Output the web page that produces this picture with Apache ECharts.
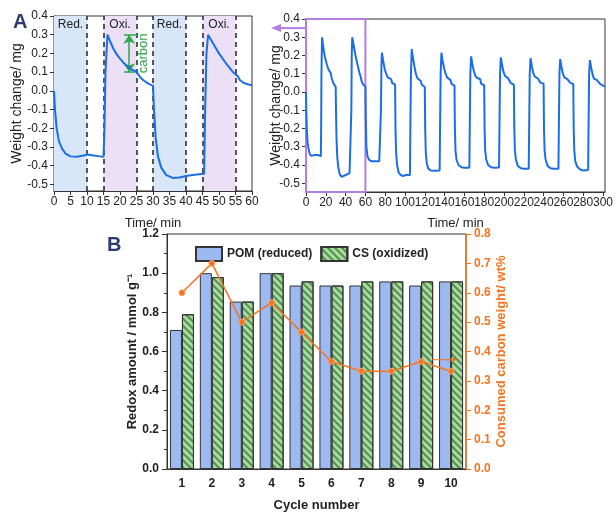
<!DOCTYPE html>
<html>
<head>
<meta charset="utf-8">
<script src="https://cdn.jsdelivr.net/npm/echarts@6/dist/echarts.min.js"></script>
<style>
  html, body { margin: 0; padding: 0; background: #fff; }
  #chart { width: 616px; height: 513px; }
</style>
</head>
<body>
<div id="chart"></div>
<script>
// A: weight change (mg) vs time (min), first two redox cycles
const cyclesFirst = [
  [0, 0.0], [0.3, -0.1], [0.8, -0.2], [1.5, -0.27], [2.5, -0.31], [3.5, -0.335], [5, -0.35], [7, -0.352],
  [9, -0.345], [10, -0.34], [12, -0.345], [14, -0.35], [15, -0.352], [15.3, -0.2], [15.6, 0.1], [16.2, 0.3],
  [17, 0.265], [18, 0.225], [19, 0.195], [20, 0.172], [21, 0.152], [22, 0.135], [23, 0.12], [24, 0.11],
  [25, 0.105], [25.6, 0.085], [26.3, 0.07], [27, 0.058], [28, 0.045], [29, 0.035], [30, 0.028],
  [30.3, -0.1], [30.8, -0.25], [31.5, -0.35], [32.5, -0.41], [34, -0.45], [36, -0.465], [38, -0.463],
  [40, -0.455], [42, -0.45], [44, -0.445], [45.5, -0.443], [45.8, -0.1], [46.2, 0.2], [46.7, 0.3],
  [48, 0.26], [50, 0.2], [52, 0.15], [54, 0.105], [55, 0.088], [55.7, 0.078], [56.3, 0.058], [57.5, 0.042],
  [59, 0.034], [60, 0.03]
]
// A (right): cycles 3 to 10
const cyclesLater = [
  [60.4, -0.15], [61, -0.3], [62, -0.35], [63.5, -0.37], [66, -0.38], [70, -0.38], [74, -0.38], [75.3, -0.376],
  [75.7, -0.1], [76.2, 0.15], [76.7, 0.215], [78, 0.17], [79.5, 0.125], [81, 0.1], [82.5, 0.08], [84, 0.075],
  [86, 0.07], [87, 0.05], [88.5, 0.043], [90, 0.04],
  [90.4, -0.2], [91, -0.33], [92, -0.4], [93.5, -0.44], [95.5, -0.455], [98, -0.46], [101, -0.455], [105, -0.455],
  [105.4, -0.2], [106, 0.1], [106.8, 0.235], [108, 0.19], [109.5, 0.14], [111, 0.1], [112.5, 0.075], [114, 0.065],
  [116, 0.06], [117, 0.04], [118.5, 0.03], [120, 0.027],
  [120.4, -0.2], [121, -0.33], [122, -0.39], [123.5, -0.42], [126, -0.43], [130, -0.432], [135, -0.43],
  [135.4, -0.2], [136, 0.1], [136.8, 0.215], [138, 0.17], [139.5, 0.13], [141, 0.1], [142.5, 0.08], [144, 0.07],
  [146, 0.065], [147, 0.045], [148.5, 0.037], [150, 0.035],
  [150.4, -0.2], [151, -0.32], [152, -0.37], [154, -0.4], [157, -0.412], [160, -0.415], [165, -0.415],
  [165.4, -0.2], [166, 0.1], [166.8, 0.195], [168, 0.155], [169.5, 0.115], [171, 0.09], [172.5, 0.078], [174, 0.075],
  [176, 0.07], [177, 0.045], [178.5, 0.038], [180, 0.037],
  [180.4, -0.2], [181, -0.32], [182, -0.37], [184, -0.4], [187, -0.412], [190, -0.415], [195, -0.414],
  [195.4, -0.2], [196, 0.1], [196.8, 0.19], [198, 0.15], [199.5, 0.11], [201, 0.088], [202.5, 0.078], [204, 0.076],
  [206, 0.072], [207, 0.048], [208.5, 0.042], [210, 0.04],
  [210.4, -0.2], [211, -0.32], [212, -0.37], [214, -0.405], [217, -0.418], [220, -0.42], [225, -0.42],
  [225.4, -0.2], [226, 0.1], [226.8, 0.185], [228, 0.145], [229.5, 0.105], [231, 0.085], [232.5, 0.077], [234, 0.075],
  [236, 0.07], [237, 0.05], [238.5, 0.046], [240, 0.045],
  [240.4, -0.2], [241, -0.32], [242, -0.37], [244, -0.405], [247, -0.418], [250, -0.42], [255, -0.42],
  [255.4, -0.2], [256, 0.1], [256.8, 0.18], [258, 0.14], [259.5, 0.1], [261, 0.08], [262.5, 0.072], [264, 0.07],
  [266, 0.066], [267, 0.05], [268.5, 0.046], [270, 0.044],
  [270.4, -0.2], [271, -0.32], [272, -0.38], [274, -0.41], [277, -0.425], [280, -0.43], [285, -0.428],
  [285.4, -0.2], [286, 0.1], [286.8, 0.175], [288, 0.135], [289.5, 0.095], [291, 0.072], [292.5, 0.066], [294, 0.065],
  [296, 0.06], [297, 0.045], [299, 0.035], [302, 0.03]
]
const redWindows = [[0, 10], [30, 40]]
const oxiWindows = [[15, 25], [45, 55]]
const stepLines = [10, 15, 25, 30, 40, 45, 55]
const weightTicks = [-0.5, -0.4, -0.3, -0.2, -0.1, 0, 0.1, 0.2, 0.3, 0.4]

// B: redox amount per cycle and consumed carbon
const cycles = ['1', '2', '3', '4', '5', '6', '7', '8', '9', '10']
const pomReduced = [0.71, 1.0, 0.855, 1.0, 0.937, 0.937, 0.937, 0.958, 0.937, 0.958]
const csOxidized = [0.79, 0.98, 0.855, 1.0, 0.958, 0.937, 0.958, 0.958, 0.958, 0.958]
const carbonUsed = [0.6, 0.7, 0.5, 0.566, 0.466, 0.366, 0.333, 0.333, 0.366, 0.333]

const FONT = 'Liberation Sans, Arial, sans-serif'
const AXIS = '#333'
const ORANGE = '#f47421'
const BLUE = '#1a6fe6'

const chart = echarts.init(document.getElementById('chart'))

const weightAxis = (idx, gap) => ({
  type: 'value',
  gridIndex: idx,
  min: idx === 0 ? -0.535 : -0.548,
  max: 0.4,
  name: 'Weight change/ mg',
  nameLocation: 'middle',
  nameGap: gap,
  nameMoveOverlap: false,
  nameTextStyle: { fontFamily: FONT, fontSize: 14, color: '#222' },
  axisLine: { show: true, onZero: false, lineStyle: { color: AXIS } },
  axisTick: { show: true, length: 4, customValues: weightTicks, lineStyle: { color: AXIS } },
  axisLabel: { customValues: weightTicks, fontFamily: FONT, fontSize: 12, color: '#222', margin: 6,
    formatter: v => v.toFixed(1) },
  splitLine: { show: false }
})

const timeAxis = (idx, max, interval, gap) => ({
  type: 'value', gridIndex: idx, min: 0, max: max, interval: interval,
  name: 'Time/ min', nameLocation: 'middle', nameGap: gap, nameMoveOverlap: false,
  nameTextStyle: { fontFamily: FONT, fontSize: 13, color: '#222' },
  axisLine: { onZero: false, lineStyle: { color: AXIS } },
  axisTick: { length: 4, lineStyle: { color: AXIS } },
  axisLabel: { fontFamily: FONT, fontSize: 12, color: '#222', margin: 5 },
  splitLine: { show: false }
})

const option = {
  animation: false,
  grid: [
    { left: 54, top: 16, width: 198, height: 175, show: true, borderColor: AXIS, borderWidth: 1 },
    { left: 306, top: 19, width: 307, height: 173, show: true, borderColor: AXIS, borderWidth: 1 },
    { left: 167, top: 234, width: 299, height: 236, show: true, borderColor: AXIS, borderWidth: 1 }
  ],
  legend: {
    left: 190, top: 241, itemWidth: 26, itemHeight: 14, itemGap: 8, icon: 'rect',
    data: ['POM (reduced)', 'CS (oxidized)'],
    textStyle: { fontFamily: FONT, fontSize: 12, fontWeight: 'bold', color: '#222' }
  },
  xAxis: [
    timeAxis(0, 60, 5, 26),
    timeAxis(1, 302, 20, 25),
    {
      type: 'category', gridIndex: 2, data: cycles,
      name: 'Cycle number', nameLocation: 'middle', nameGap: 30, nameMoveOverlap: false,
      nameTextStyle: { fontFamily: FONT, fontSize: 13, fontWeight: 'bold', color: '#222' },
      axisLine: { lineStyle: { color: AXIS } },
      axisTick: { length: 5, lineStyle: { color: AXIS } },
      axisLabel: { fontFamily: FONT, fontSize: 12, fontWeight: 'bold', color: '#222', margin: 9 }
    }
  ],
  yAxis: [
    weightAxis(0, 30),
    weightAxis(1, 23),
    {
      type: 'value', gridIndex: 2, min: 0, max: 1.2, interval: 0.2,
      name: 'Redox amount / mmol g⁻¹', nameLocation: 'middle', nameGap: 28, nameMoveOverlap: false,
      nameTextStyle: { fontFamily: FONT, fontSize: 13, fontWeight: 'bold', color: '#222' },
      axisLine: { show: true, lineStyle: { color: AXIS } },
      axisTick: { show: true, length: 5, lineStyle: { color: AXIS } },
      minorTick: { show: true, splitNumber: 2, length: 3, lineStyle: { color: AXIS } },
      axisLabel: { fontFamily: FONT, fontSize: 12, fontWeight: 'bold', color: '#222', formatter: v => v.toFixed(1) },
      splitLine: { show: false }
    },
    {
      type: 'value', gridIndex: 2, position: 'right', min: 0, max: 0.8, interval: 0.1,
      name: 'Consumed carbon weight/ wt%', nameLocation: 'middle', nameGap: 29, nameRotate: 90,
      nameMoveOverlap: false,
      nameTextStyle: { fontFamily: FONT, fontSize: 13, fontWeight: 'bold', color: ORANGE },
      axisLine: { show: true, lineStyle: { color: ORANGE, width: 1.5 } },
      axisTick: { show: true, length: 5, lineStyle: { color: ORANGE } },
      axisLabel: { fontFamily: FONT, fontSize: 12, fontWeight: 'bold', color: ORANGE, formatter: v => v.toFixed(1) },
      splitLine: { show: false }
    }
  ],
  series: [
    {
      type: 'line', xAxisIndex: 0, yAxisIndex: 0, data: cyclesFirst,
      showSymbol: false, lineStyle: { color: BLUE, width: 2 }, z: 5,
      markArea: {
        silent: true,
        label: { position: 'insideTop', distance: 3, fontFamily: FONT, fontSize: 12, color: '#222' },
        data: redWindows.map(w => [{ xAxis: w[0], name: 'Red.', itemStyle: { color: '#d7e6f9' } }, { xAxis: w[1] }])
          .concat(oxiWindows.map(w => [{ xAxis: w[0], name: 'Oxi.', itemStyle: { color: '#ebe0f5' } }, { xAxis: w[1] }]))
      },
      markLine: {
        silent: true, symbol: 'none', label: { show: false },
        lineStyle: { color: '#222', type: [5, 4], width: 1.5 },
        data: stepLines.map(x => ({ xAxis: x }))
      }
    },
    {
      // carbon-loss annotation in A
      type: 'line', xAxisIndex: 0, yAxisIndex: 0, data: [], silent: true,
      markLine: {
        silent: true, label: { show: false }, animation: false,
        lineStyle: { color: '#2aa84a', type: 'solid', width: 1.5 },
        data: [
          [{ coord: [22.8, 0.3], symbol: 'arrow' }, { coord: [22.8, 0.1], symbol: 'arrow' }],
          [{ coord: [21.2, 0.3], symbol: 'none' }, { coord: [25.2, 0.3], symbol: 'none' }],
          [{ coord: [21.2, 0.1], symbol: 'none' }, { coord: [25.2, 0.1], symbol: 'none' }]
        ],
        symbolSize: 9
      }
    },
    {
      type: 'line', xAxisIndex: 1, yAxisIndex: 1, data: cyclesFirst.concat(cyclesLater),
      showSymbol: false, lineStyle: { color: BLUE, width: 2 },
      markArea: {
        silent: true,
        itemStyle: { color: 'rgba(0,0,0,0)', borderColor: '#b47de3', borderWidth: 2 },
        data: [[{ xAxis: 0, yAxis: -0.548 }, { xAxis: 60, yAxis: 0.4 }]]
      }
    },
    {
      name: 'POM (reduced)', type: 'bar', xAxisIndex: 2, yAxisIndex: 2, data: pomReduced,
      barWidth: 12, barGap: '0%',
      itemStyle: { color: '#9db9f2', borderColor: '#333', borderWidth: 1 }
    },
    {
      name: 'CS (oxidized)', type: 'bar', xAxisIndex: 2, yAxisIndex: 2, data: csOxidized,
      barWidth: 12, barGap: '0%',
      itemStyle: {
        color: '#a9dba0', borderColor: '#333', borderWidth: 1,
        decal: { symbol: 'rect', symbolSize: 1, dashArrayX: [1, 0], dashArrayY: [1.5, 2.5],
          rotation: Math.PI / 4, color: 'rgba(45,110,45,0.7)' }
      }
    },
    {
      name: 'Consumed carbon', type: 'line', xAxisIndex: 2, yAxisIndex: 3, data: carbonUsed,
      symbol: 'circle', symbolSize: 6, z: 10,
      lineStyle: { color: ORANGE, width: 1.5 },
      itemStyle: { color: ORANGE, borderColor: '#fba36a', borderWidth: 1 }
    }
  ]
}

chart.setOption(option)

// annotations placed from data coordinates
const carbonPos = chart.convertToPixel({ gridIndex: 0 }, [27, 0.2])
const boxPos = chart.convertToPixel({ gridIndex: 1 }, [0, 0.35])
const cycle9 = chart.convertToPixel({ xAxisIndex: 2, yAxisIndex: 3 }, [8, 0.372])
const arrowBStart = cycle9[0] + 11
const arrowBEnd = cycle9[0] + 36

chart.setOption({
  graphic: [
    { type: 'text', left: 13, top: 12, style: { text: 'A', font: 'bold 20px ' + FONT, fill: '#2d3c6e' } },
    { type: 'text', left: 107, top: 235, style: { text: 'B', font: 'bold 20px ' + FONT, fill: '#2d3c6e' } },
    {
      type: 'text', x: carbonPos[0], y: carbonPos[1], rotation: Math.PI / 2,
      style: { text: 'carbon', font: '13px ' + FONT, fill: '#2aa84a', align: 'center', verticalAlign: 'middle' }
    },
    {
      type: 'line', shape: { x1: boxPos[0], y1: boxPos[1], x2: boxPos[0] - 30, y2: boxPos[1] },
      style: { stroke: '#b47de3', lineWidth: 2 }
    },
    {
      type: 'polygon',
      shape: { points: [[boxPos[0] - 35, boxPos[1]], [boxPos[0] - 25, boxPos[1] - 4], [boxPos[0] - 25, boxPos[1] + 4]] },
      style: { fill: '#b47de3' }
    },
    {
      type: 'line', shape: { x1: arrowBStart, y1: cycle9[1], x2: arrowBEnd - 4, y2: cycle9[1] },
      style: { stroke: ORANGE, lineWidth: 1 }, z: 20
    },
    {
      type: 'polygon',
      shape: { points: [[arrowBEnd, cycle9[1]], [arrowBEnd - 6, cycle9[1] - 2.5], [arrowBEnd - 6, cycle9[1] + 2.5]] },
      style: { fill: ORANGE }, z: 20
    }
  ]
})
</script>
</body>
</html>
